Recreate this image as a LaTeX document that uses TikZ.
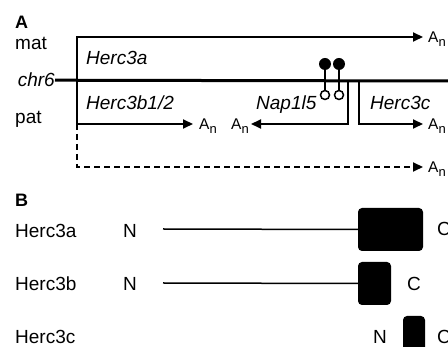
\documentclass[tikz,border=0pt]{standalone}
\usepackage{fontspec}
\setmainfont{Liberation Sans}
\usetikzlibrary{arrows.meta, positioning, calc}

\tikzset{
    % Text Styles
    txtLabel/.style={inner sep=0pt, anchor=base west, font=\fontsize{19}{21}\selectfont},
    geneLabel/.style={txtLabel, font=\fontsize{19}{21}\selectfont\itshape},
    panelLabel/.style={txtLabel, font=\fontsize{18}{20}\selectfont\bfseries},
    polyA/.style={inner sep=0pt, font=\fontsize{15.5}{17}\selectfont},
    % Line Styles
    chrLine/.style={line width=3pt},
    transcript/.style={-{Triangle[length=10pt,width=9pt]}, line width=2pt},
    linker/.style={line width=1.5pt},
    % Methylation Marks
    metFull/.style={circle, fill=black, inner sep=0pt, minimum size=12pt},
    metEmpty/.style={circle, draw=black, fill=white, line width=1.5pt, inner sep=0pt, minimum size=9pt},
    % Protein Domains
    domainBox/.style={rectangle, rounded corners=4pt, fill=black, inner sep=0pt, minimum height=43pt}
}

\newcommand{\polyAn}{A\raisebox{-4pt}{\fontsize{13}{14}\selectfont n}}

\begin{document}
\begin{tikzpicture}[x=1pt, y=-1pt]

    \clip (0,0) rectangle (448,347);

    % --- PANEL A (Imprinted Locus) ---

    % 1. Row labels
    \node[panelLabel] (labA) at (15,29) {A};
    \node[txtLabel] (mat) at (15,50) {mat};
    \node[geneLabel, anchor=base east] (chr) at (55,87) {chr6};
    \node[txtLabel] (pat) at (15,124) {pat};

    % 2. Gene names
    \node[geneLabel] (herc3a) at (86,65) {Herc3a};
    \node[geneLabel] (herc3b) at (86,110) {Herc3b1/2};
    \node[geneLabel] (nap) at (256,110) {Nap1l5};
    \node[geneLabel] (herc3c) at (370,110) {Herc3c};

    % 3. Transcript ends
    \coordinate (chrEnd) at (448,81);
    \coordinate (tss) at (77,124);
    \coordinate (matEnd) at (423,37);
    \coordinate (patEnd) at (193,124);
    \coordinate (napStart) at (348,81);
    \coordinate (napEnd) at (251,124);
    \coordinate (cStart) at (359,81);
    \coordinate (cEnd) at (423,124);
    \coordinate (dashEnd) at (423,167);

    % 4. Poly(A) tails
    \node[polyA, anchor=base west] (anMat) at ($(matEnd)+(5,5.5)$) {\polyAn};
    \node[polyA, anchor=base west] (anPat) at ($(patEnd)+(6,5.5)$) {\polyAn};
    \node[polyA, anchor=base east] (anNap) at ($(napEnd)+(-2,5.5)$) {\polyAn};
    \node[polyA, anchor=base west] (anC) at ($(cEnd)+(5,5.5)$) {\polyAn};
    \node[polyA, anchor=base west] (anDash) at ($(dashEnd)+(5,5.5)$) {\polyAn};

    % --- Lines & Arrows ---
    \draw[chrLine] (chr.east) -- (chrEnd);
    \draw[transcript] (tss) -- (tss |- matEnd) -- (matEnd);
    \draw[transcript] (tss) -- (patEnd);
    \draw[transcript, dashed, dash pattern=on 6pt off 4pt] (tss) |- (dashEnd);
    \draw[transcript] (napStart) |- (napEnd);
    \draw[transcript] (cStart) |- (cEnd);

    % --- Methylation lollipops ---
    \node[metFull] (met1) at (325,64) {};
    \node[metFull] (met2) at (339,64) {};
    \node[metEmpty] (unm1) at (325,95) {};
    \node[metEmpty] (unm2) at (339,95) {};
    \draw[linker] (met1) -- (unm1);
    \draw[linker] (met2) -- (unm2);

    % --- PANEL B (Protein Products) ---
    \node[panelLabel] (labB) at (15,207) {B};
    \node[txtLabel] (protA) at (15,238) {Herc3a};
    \node[txtLabel] (protB) at (15,291) {Herc3b};
    \node[txtLabel] (protC) at (15,344) {Herc3c};

    \node[txtLabel] (nA) at (123,238) {N};
    \node[txtLabel] (nB) at (123,291) {N};
    \node[txtLabel] (nC) at (373,344) {N};

    \node[domainBox, minimum width=65pt] (boxA) at (390.5,229.5) {};
    \node[domainBox, minimum width=33pt] (boxB) at (374.5,283.5) {};
    \node[domainBox, minimum width=22pt] (boxC) at (414,337.5) {};

    \node[txtLabel] (cA) at (437,236) {C};
    \node[txtLabel] (cB) at (407,291) {C};
    \node[txtLabel] (cC) at (437,344) {C};

    \coordinate (linkA) at (163,229);
    \coordinate (linkB) at (163,283);
    \draw[linker] (linkA) -- (boxA.west);
    \draw[linker] (linkB) -- (boxB.west);

\end{tikzpicture}
\end{document}
